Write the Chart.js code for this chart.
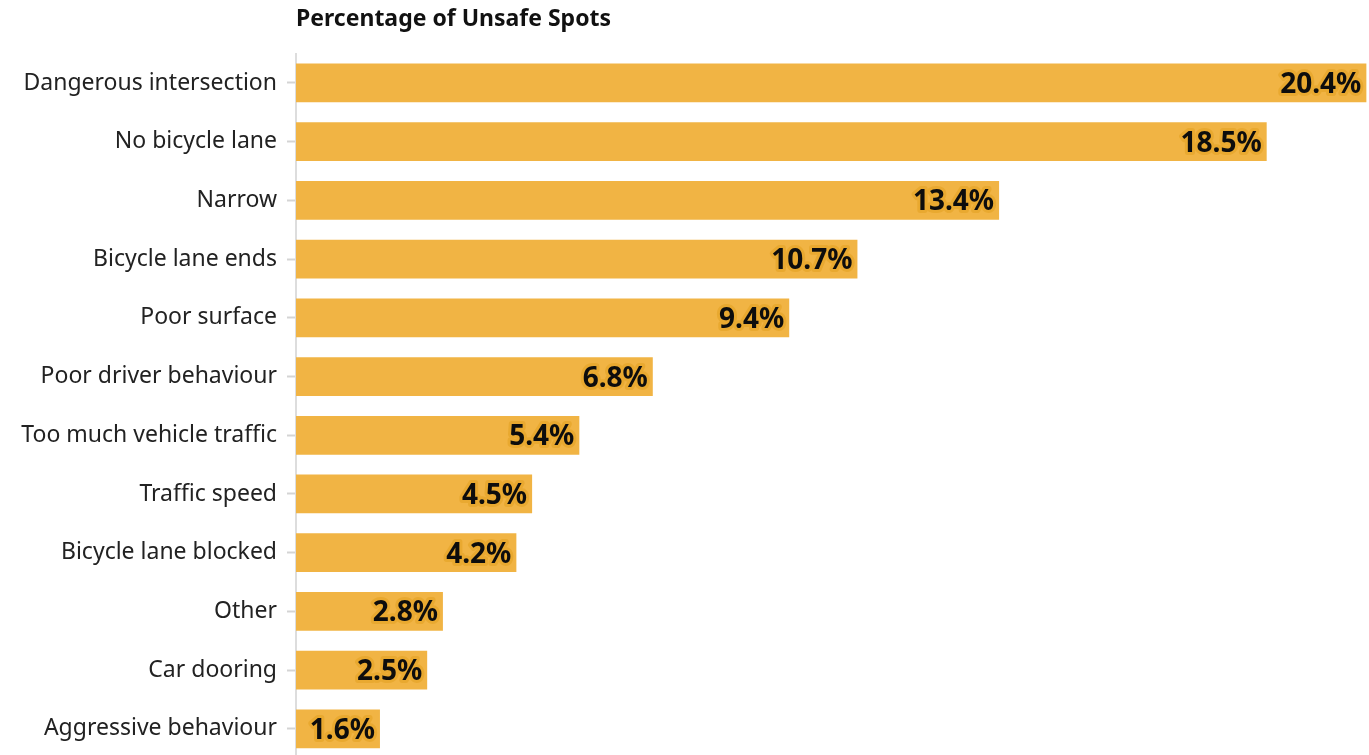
<!DOCTYPE html>
<html>
<head>
<meta charset="utf-8">
<script src="https://cdn.jsdelivr.net/npm/chart.js@4/dist/chart.umd.min.js"></script>
<style>
  html, body { margin: 0; padding: 0; background: #fff; overflow: hidden; }
  #wrap { width: 1369px; height: 782px; position: relative; }
</style>
</head>
<body>
<div id="wrap"><canvas id="chart"></canvas></div>
<script>
const categories = [
  'Dangerous intersection', 'No bicycle lane', 'Narrow', 'Bicycle lane ends',
  'Poor surface', 'Poor driver behaviour', 'Too much vehicle traffic', 'Traffic speed',
  'Bicycle lane blocked', 'Other', 'Car dooring', 'Aggressive behaviour'
];
const percentages = [20.4, 18.5, 13.4, 10.7, 9.4, 6.8, 5.4, 4.5, 4.2, 2.8, 2.5, 1.6];
const chartTitle = 'Percentage of Unsafe Spots';

const FONT = "'Noto Sans', sans-serif";
const BAR = '#F1B444';

// value labels at the end of each bar, with a soft orange halo
const barLabels = {
  id: 'barLabels',
  afterDatasetsDraw(chart) {
    const ctx = chart.ctx;
    const meta = chart.getDatasetMeta(0);
    ctx.save();
    ctx.font = 'bold 28px ' + FONT;
    ctx.textAlign = 'right';
    ctx.textBaseline = 'middle';
    ctx.lineJoin = 'round';
    meta.data.forEach((bar, i) => {
      const txt = percentages[i].toFixed(1) + '%';
      const x = bar.x - 5, y = bar.y + 2;
      ctx.strokeStyle = '#E9A930';
      ctx.lineWidth = 6;
      ctx.strokeText(txt, x, y);
      ctx.fillStyle = '#0d0d0d';
      ctx.fillText(txt, x, y);
    });
    ctx.restore();
  }
};

new Chart(document.getElementById('chart'), {
  type: 'bar',
  data: {
    labels: categories,
    datasets: [{
      data: percentages,
      backgroundColor: BAR,
      borderWidth: 0,
      categoryPercentage: 1,
      barPercentage: 0.66
    }]
  },
  options: {
    indexAxis: 'y',
    responsive: true,
    maintainAspectRatio: false,
    animation: false,
    layout: { padding: { top: 0, bottom: 2, right: 0, left: 0 } },
    plugins: {
      legend: { display: false },
      tooltip: { enabled: false },
      title: {
        display: true,
        text: chartTitle,
        align: 'start',
        fullSize: false,
        color: '#111',
        font: { family: FONT, size: 23, weight: 'bold' },
        padding: { top: 6, bottom: 20 }
      }
    },
    scales: {
      x: {
        display: false,
        min: 0,
        max: 20.45
      },
      y: {
        afterFit(scale) { scale.width = 296; },
        grid: {
          offset: false,
          drawOnChartArea: false,
          tickLength: 9,
          tickColor: '#d4d4d4',
          tickWidth: 2
        },
        border: { display: true, color: '#ddd', width: 2 },
        ticks: {
          color: '#222',
          padding: 10,
          font: { family: FONT, size: 23 }
        }
      }
    }
  },
  plugins: [barLabels]
});
</script>
</body>
</html>
